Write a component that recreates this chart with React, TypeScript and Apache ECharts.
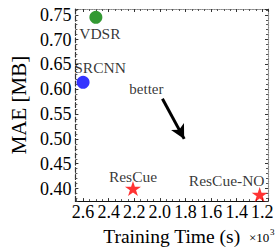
import React, { useEffect, useRef } from "react";
import * as echarts from "echarts";

const methods = ["VDSR", "SRCNN", "ResCue", "ResCue-NO"];
const trainingTime = [2.5, 2.6, 2.21, 1.22];
const mae = [0.745, 0.614, 0.4, 0.388];
const colors = ["#008000", "#0000ff", "#ff0000", "#ff0000"];
const labelOffsets = [[4, 16], [17, -15], [0, -12], [-33, -14]];
const arrowStart = [1.98, 0.581];
const arrowEnd = [1.81, 0.5];
const betterPos = [2.105, 0.6];

const STAR = "path://M50,0 L61.2,34.5 L97.6,34.5 L68.2,55.9 L79.4,90.5 L50,69.1 L20.6,90.5 L31.8,55.9 L2.4,34.5 L38.8,34.5 Z";
const FONT = "'Liberation Serif', 'Times New Roman', serif";

const X_MIN = 1.155, X_MAX = 2.66;
const Y_MIN = 0.3747, Y_MAX = 0.7617;

export default function App() {
  const ref = useRef<HTMLDivElement>(null);
  useEffect(() => {
    if (!ref.current) return;
    const chart = echarts.init(ref.current, undefined, { renderer: "svg" });
    const xBase = {
      type: "value",
      inverse: true,
      min: X_MIN,
      max: X_MAX,
      splitNumber: 7,
      minInterval: 0.2,
      maxInterval: 0.2,
      splitLine: { show: false },
      axisTick: { show: true, inside: true, length: 3, lineStyle: { color: "#333" } },
      minorTick: { show: true, splitNumber: 4, length: 2, lineStyle: { color: "#555" } },
    };
    const yBase = {
      type: "value",
      min: Y_MIN,
      max: Y_MAX,
      splitNumber: 8,
      minInterval: 0.05,
      maxInterval: 0.05,
      splitLine: { show: false },
      axisTick: { show: true, inside: true, length: 3, lineStyle: { color: "#333" } },
      minorTick: { show: true, splitNumber: 5, length: 2, lineStyle: { color: "#555" } },
    };
    const pointSeries = methods.map((m, i) => ({
      type: "scatter",
      name: m,
      symbol: i < 2 ? "circle" : STAR,
      symbolSize: i < 2 ? 13 : [16, 15],
      itemStyle: { color: colors[i] },
      data: [[trainingTime[i], mae[i]]],
      label: {
        show: true,
        position: "inside",
        offset: labelOffsets[i],
        formatter: m,
        color: "#000",
        fontFamily: FONT,
        fontSize: 15.5,
      },
      emphasis: { disabled: true },
      silent: true,
    }));
    chart.setOption({
      animation: false,
      grid: { left: 68, right: 12, top: 9, bottom: 43, show: false },
      xAxis: [
        {
          ...xBase,
          position: "bottom",
          name: "Training Time (s)",
          nameLocation: "middle",
          nameGap: 20,
          nameTextStyle: { fontFamily: FONT, fontSize: 19.5, color: "#000" },
          axisLine: { show: true, lineStyle: { color: "#111", width: 1.2 } },
          axisLabel: {
            fontFamily: FONT,
            fontSize: 18,
            color: "#000",
            margin: 2,
            showMinLabel: false,
            showMaxLabel: false,
            formatter: (v: number) => v.toFixed(1),
          },
        },
        {
          ...xBase,
          position: "top",
          axisLine: { show: true, lineStyle: { color: "#888", type: "dotted", width: 1.2 } },
          axisLabel: { show: false },
        },
      ],
      yAxis: [
        {
          ...yBase,
          position: "left",
          name: "MAE [MB]",
          nameLocation: "middle",
          nameGap: 43,
          nameTextStyle: { fontFamily: FONT, fontSize: 21, color: "#000" },
          axisLine: { show: true, lineStyle: { color: "#333", type: "dashed", width: 1.2 } },
          axisLabel: {
            fontFamily: FONT,
            fontSize: 18,
            color: "#000",
            margin: 4,
            showMinLabel: false,
            showMaxLabel: false,
            formatter: (v: number) => v.toFixed(2),
          },
        },
        {
          ...yBase,
          position: "right",
          axisLine: { show: true, lineStyle: { color: "#888", type: "dotted", width: 1.2 } },
          axisLabel: { show: false },
        },
      ],
      series: [
        ...pointSeries,
        {
          type: "scatter",
          name: "better",
          symbolSize: 0,
          data: [betterPos],
          label: {
            show: true,
            position: "inside",
            formatter: "better",
            color: "#000",
            fontFamily: FONT,
            fontSize: 15,
          },
          silent: true,
          markLine: {
            silent: true,
            symbol: ["none", "arrow"],
            symbolSize: [11, 14],
            label: { show: false },
            lineStyle: { color: "#000", width: 3, type: "solid" },
            emphasis: { disabled: true },
            data: [[{ coord: arrowStart }, { coord: arrowEnd }]],
          },
        },
      ],
      graphic: [
        { type: "text", left: 249, top: 231, style: { text: "×10", fontFamily: FONT, fontSize: 13, fill: "#000" } },
        { type: "text", left: 270, top: 227, style: { text: "3", fontFamily: FONT, fontSize: 9, fill: "#000" } },
      ],
    });
    return () => chart.dispose();
  }, []);
  return (
    <div
      ref={ref}
      style={{ position: "fixed", left: 0, top: 0, width: 280, height: 251, background: "#fff" }}
    />
  );
}
